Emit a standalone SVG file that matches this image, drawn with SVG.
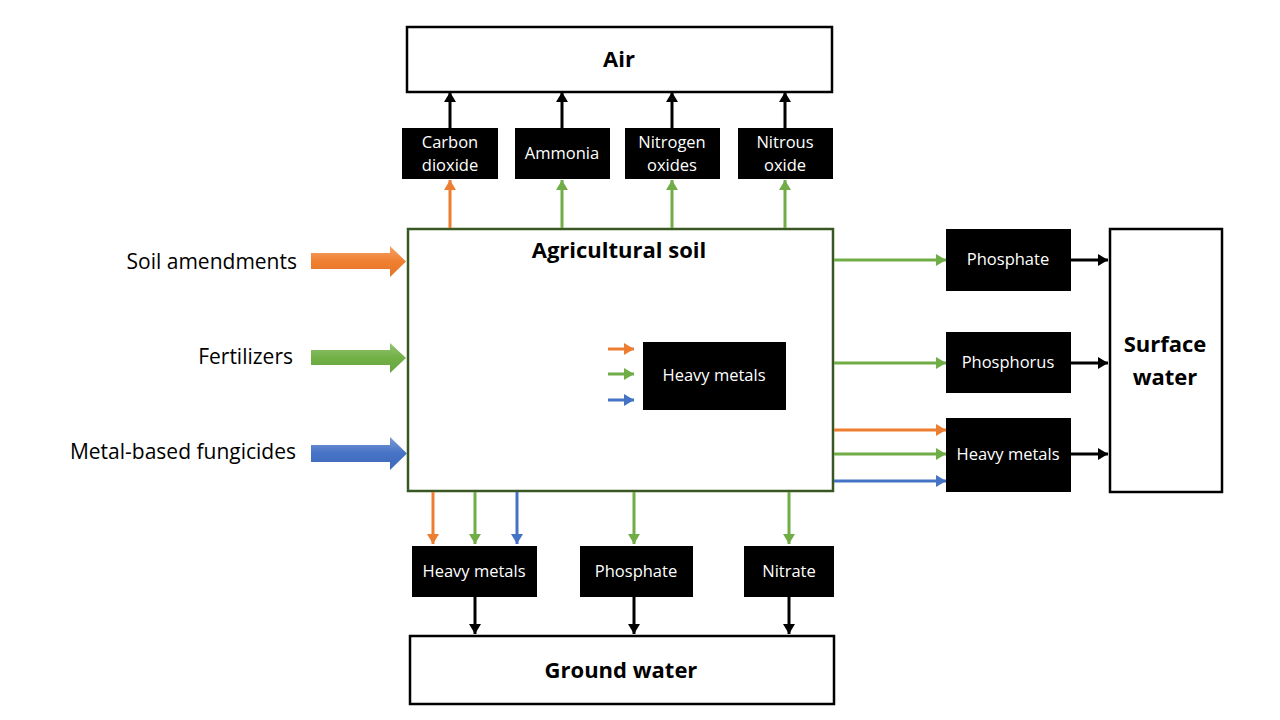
<svg xmlns="http://www.w3.org/2000/svg" width="1280" height="720" viewBox="0 0 1280 720">
<style>
.frame{fill:#fff;stroke:#000;stroke-width:2.5}
.soil{fill:#fff;stroke:#385723;stroke-width:2.5}
.blk{fill:#000}
.lbl{font-family:"Open Sans","Liberation Sans",sans-serif;font-size:16.5px;fill:#fff;text-anchor:middle}
.ttl{font-family:"Open Sans","Liberation Sans",sans-serif;font-size:22px;font-weight:bold;fill:#000;text-anchor:middle}
.side{font-family:"Open Sans","Liberation Sans",sans-serif;font-size:21px;fill:#000;text-anchor:end}
.o{stroke:#ED7D31;stroke-width:3;fill:none;marker-end:url(#mo)}
.g{stroke:#70AD47;stroke-width:3;fill:none;marker-end:url(#mg)}
.b{stroke:#4472C4;stroke-width:3;fill:none;marker-end:url(#mb)}
.k{stroke:#000;stroke-width:3;fill:none;marker-end:url(#mk)}
</style>
<defs>
<marker id="mo" viewBox="0 0 10 12" refX="10" refY="6" markerWidth="10" markerHeight="12" markerUnits="userSpaceOnUse" orient="auto"><path d="M0,0 L10,6 L0,12 z" fill="#ED7D31"/></marker>
<marker id="mg" viewBox="0 0 10 12" refX="10" refY="6" markerWidth="10" markerHeight="12" markerUnits="userSpaceOnUse" orient="auto"><path d="M0,0 L10,6 L0,12 z" fill="#70AD47"/></marker>
<marker id="mb" viewBox="0 0 10 12" refX="10" refY="6" markerWidth="10" markerHeight="12" markerUnits="userSpaceOnUse" orient="auto"><path d="M0,0 L10,6 L0,12 z" fill="#4472C4"/></marker>
<marker id="mk" viewBox="0 0 10 12" refX="10" refY="6" markerWidth="10" markerHeight="12" markerUnits="userSpaceOnUse" orient="auto"><path d="M0,0 L10,6 L0,12 z" fill="#000"/></marker>
<linearGradient id="go" x1="0" y1="0" x2="0" y2="1"><stop offset="0" stop-color="#F4A46E"/><stop offset="0.5" stop-color="#F07F30"/><stop offset="1" stop-color="#E2742A"/></linearGradient>
<linearGradient id="gg" x1="0" y1="0" x2="0" y2="1"><stop offset="0" stop-color="#93C473"/><stop offset="0.5" stop-color="#72B046"/><stop offset="1" stop-color="#68A341"/></linearGradient>
<linearGradient id="gb" x1="0" y1="0" x2="0" y2="1"><stop offset="0" stop-color="#7A9AD6"/><stop offset="0.5" stop-color="#4673C6"/><stop offset="1" stop-color="#4069B8"/></linearGradient>
</defs>

<g id="air"><rect class="frame" x="407" y="27" width="425" height="65"/><text class="ttl" x="619" y="67">Air</text></g>
<g id="soil"><rect class="soil" x="408" y="229" width="425" height="262"/><text class="ttl" x="619" y="258">Agricultural soil</text></g>
<g id="surface-water"><rect class="frame" x="1110" y="229" width="112" height="263"/><text class="ttl" x="1165" y="352">Surface</text><text class="ttl" x="1165" y="385">water</text></g>
<g id="ground-water"><rect class="frame" x="410" y="636" width="424" height="68"/><text class="ttl" x="621" y="678">Ground water</text></g>

<g id="carbon-dioxide"><rect class="blk" x="402" y="128" width="96" height="51"/><text class="lbl" x="450" y="148">Carbon</text><text class="lbl" x="450" y="171">dioxide</text></g>
<g id="ammonia"><rect class="blk" x="515" y="128" width="95" height="51"/><text class="lbl" x="562" y="159">Ammonia</text></g>
<g id="nitrogen-oxides"><rect class="blk" x="625" y="128" width="95" height="51"/><text class="lbl" x="672" y="148">Nitrogen</text><text class="lbl" x="672" y="171">oxides</text></g>
<g id="nitrous-oxide"><rect class="blk" x="738" y="128" width="95" height="51"/><text class="lbl" x="785" y="148">Nitrous</text><text class="lbl" x="785" y="171">oxide</text></g>

<g id="heavy-metals-soil"><rect class="blk" x="643" y="342" width="143" height="68"/><text class="lbl" x="714" y="381">Heavy metals</text></g>

<g id="phosphate-surface"><rect class="blk" x="946" y="229" width="125" height="62"/><text class="lbl" x="1008" y="265">Phosphate</text></g>
<g id="phosphorus-surface"><rect class="blk" x="946" y="332" width="125" height="61"/><text class="lbl" x="1008" y="368">Phosphorus</text></g>
<g id="heavy-metals-surface"><rect class="blk" x="946" y="418" width="125" height="74"/><text class="lbl" x="1008" y="460">Heavy metals</text></g>

<g id="heavy-metals-ground"><rect class="blk" x="412" y="546" width="125" height="51"/><text class="lbl" x="474" y="577">Heavy metals</text></g>
<g id="phosphate-ground"><rect class="blk" x="580" y="546" width="113" height="51"/><text class="lbl" x="636" y="577">Phosphate</text></g>
<g id="nitrate-ground"><rect class="blk" x="744" y="546" width="90" height="51"/><text class="lbl" x="789" y="577">Nitrate</text></g>

<g id="soil-amendments"><text class="side" x="297" y="269">Soil amendments</text></g>
<g id="fertilizers"><text class="side" x="293" y="364">Fertilizers</text></g>
<g id="fungicides"><text class="side" x="296" y="459">Metal-based fungicides</text></g>

<g id="connectors">
<path d="M311,253 L390,253 L390,246 L406,261.5 L390,277 L390,269 L311,269 z" fill="url(#go)"/>
<path d="M311,350 L390,350 L390,343 L406,358 L390,373 L390,365 L311,365 z" fill="url(#gg)"/>
<path d="M311,445 L390,445 L390,437 L407,453.5 L390,470 L390,462 L311,462 z" fill="url(#gb)"/>
<line class="o" x1="450" y1="228" x2="450" y2="180"/>
<line class="g" x1="562" y1="228" x2="562" y2="180"/>
<line class="g" x1="672" y1="228" x2="672" y2="180"/>
<line class="g" x1="785" y1="228" x2="785" y2="180"/>
<line class="k" x1="450" y1="128" x2="450" y2="92"/>
<line class="k" x1="562" y1="128" x2="562" y2="92"/>
<line class="k" x1="672" y1="128" x2="672" y2="92"/>
<line class="k" x1="785" y1="128" x2="785" y2="92"/>
<line class="o" x1="608" y1="349" x2="634" y2="349"/>
<line class="g" x1="608" y1="374" x2="634" y2="374"/>
<line class="b" x1="608" y1="400" x2="634" y2="400"/>
<line class="g" x1="834" y1="260" x2="946" y2="260"/>
<line class="g" x1="834" y1="363" x2="946" y2="363"/>
<line class="o" x1="834" y1="430" x2="946" y2="430"/>
<line class="g" x1="834" y1="454" x2="946" y2="454"/>
<line class="b" x1="834" y1="481" x2="946" y2="481"/>
<line class="k" x1="1071" y1="260" x2="1108" y2="260"/>
<line class="k" x1="1071" y1="363" x2="1108" y2="363"/>
<line class="k" x1="1071" y1="454" x2="1108" y2="454"/>
<line class="o" x1="433" y1="492" x2="433" y2="544"/>
<line class="g" x1="475" y1="492" x2="475" y2="544"/>
<line class="b" x1="517" y1="492" x2="517" y2="544"/>
<line class="g" x1="634" y1="492" x2="634" y2="544"/>
<line class="g" x1="789" y1="492" x2="789" y2="544"/>
<line class="k" x1="475" y1="597" x2="475" y2="634"/>
<line class="k" x1="634" y1="597" x2="634" y2="634"/>
<line class="k" x1="789" y1="597" x2="789" y2="634"/>
</g>
</svg>
